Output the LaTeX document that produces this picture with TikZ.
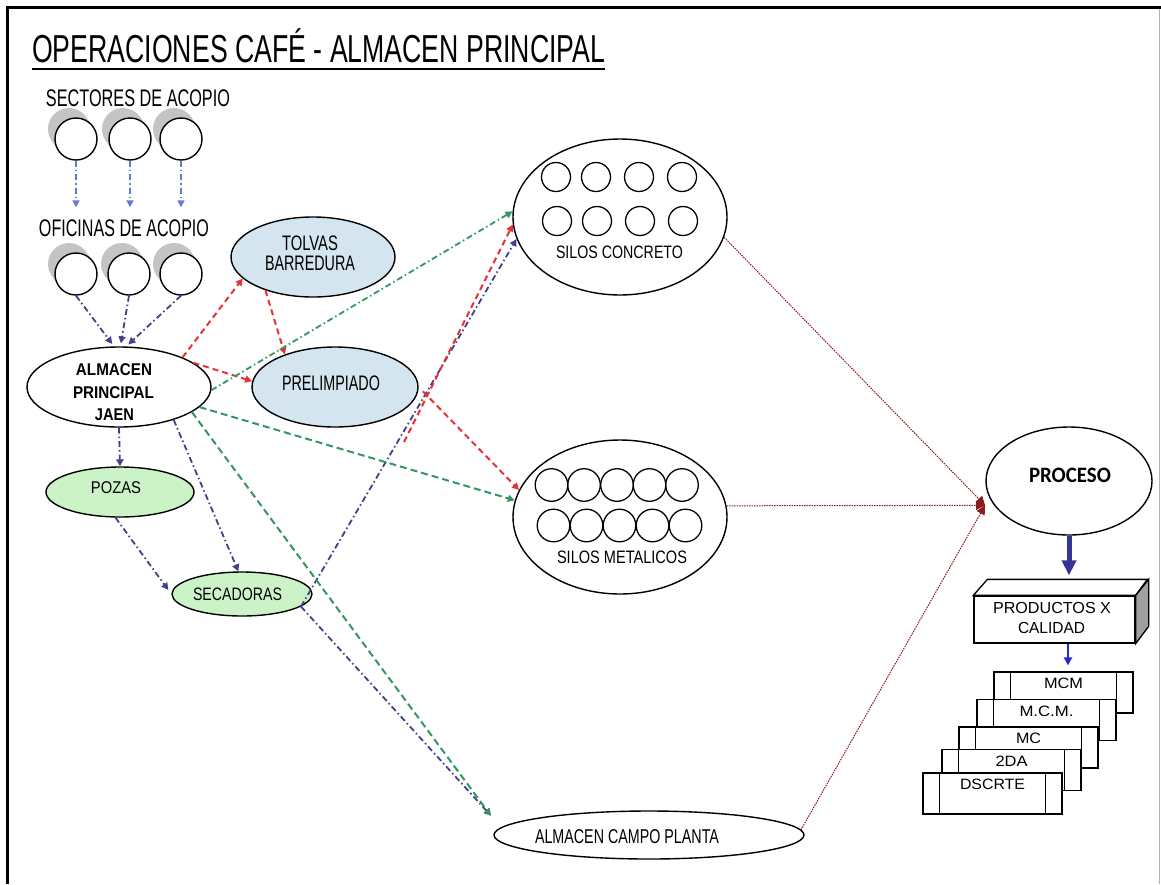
\documentclass[tikz,border=0pt]{standalone}
\usepackage{fontspec}
\usepackage{graphicx}
\setmainfont{Liberation Sans}
\newfontfamily\calfont{Carlito}
\usetikzlibrary{shapes.geometric,arrows.meta}

\definecolor{lblue}{RGB}{94,128,204}
\definecolor{navyl}{RGB}{64,64,140}
\definecolor{redl}{RGB}{228,52,56}
\definecolor{greenl}{RGB}{52,150,96}
\definecolor{darkredl}{RGB}{140,28,28}
\definecolor{fillblue}{RGB}{212,229,239}
\definecolor{fillgreen}{RGB}{204,242,200}
\definecolor{shadowc}{RGB}{196,196,196}
\definecolor{thickblue}{RGB}{52,52,150}
\definecolor{brightblue}{RGB}{40,40,210}
\definecolor{sidegray}{RGB}{160,160,160}

% text set at a given size and squeezed to a given width (pt)
\newcommand{\sztxt}[3]{\fontsize{#1}{#1}\selectfont\resizebox{#2pt}{\height}{#3}}

\begin{document}
\begin{tikzpicture}[x=1pt,y=-1pt,
  lbl/.style={inner sep=0pt, anchor=base},
  oval/.style={ellipse, draw=black, line width=1.4pt, inner sep=0pt},
  silo/.style={circle, draw=black, line width=1.4pt, fill=white, minimum size=42pt, inner sep=0pt},
  dashdot/.style={dash pattern=on 6pt off 3pt on 1.5pt off 3pt},
  tip/.style={-{Triangle[length=7pt,width=7pt]}},
  lbarrow/.style={lblue, line width=1.6pt, dashdot, tip},
  nvarrow/.style={navyl, line width=1.8pt, dashdot, tip},
  rdarrow/.style={redl, line width=2pt, dash pattern=on 6pt off 4pt, tip},
  gdarrow/.style={greenl, line width=2pt, dash pattern=on 7pt off 4pt, tip},
  gddarrow/.style={greenl, line width=1.8pt, dashdot, tip},
  drarrow/.style={darkredl, line width=1pt, dash pattern=on 1.5pt off 1pt, -{Triangle[length=9pt,width=9pt]}},
  card/.style={draw=black, line width=1.2pt, fill=white, minimum width=139pt, minimum height=41pt, inner sep=0pt}
]
\useasboundingbox (0,0) rectangle (1161,884);
\fill[white] (0,0) rectangle (1161,884);

% frame
\draw[line width=3pt] (7.5,884) -- (7.5,7.5) -- (1161,7.5);
\draw[gray!60, line width=1pt] (1159,9) -- (1159,884);

% title
\node[lbl, anchor=base west] (title) at (32,62)
  {\sztxt{39}{573}{OPERACIONES CAFÉ - ALMACEN PRINCIPAL}};
\draw[line width=2pt] ([yshift=-7pt]title.base west) -- ([yshift=-7pt]title.base east);

% collection points with extruded shadows
\foreach \x/\y/\n in {76/139/s1,130/139/s2,181/139/s3,76/274/o1,129/274/o2,181/274/o3}{
  \fill[shadowc] (\x-7,\y-10) circle[radius=21pt];
  \fill[shadowc] (\x-3.5,\y-5) circle[radius=21pt];
  \node[silo] (\n) at (\x,\y) {};
}
\node[lbl] (tsect) at (138,106) {\sztxt{24}{184}{SECTORES DE ACOPIO}};
\node[lbl] (tofic) at (124,236) {\sztxt{24}{170}{OFICINAS DE ACOPIO}};

% main ellipses
\node[oval, fill=white, minimum width=184pt, minimum height=80pt] (alm) at (119,387) {};
\node[oval, fill=fillblue, minimum width=164pt, minimum height=80pt] (tol) at (313,257) {};
\node[oval, fill=fillblue, minimum width=166pt, minimum height=80pt] (pre) at (335,387) {};
\node[oval, fill=fillgreen, minimum width=148pt, minimum height=50pt] (poz) at (120,492) {};
\node[oval, fill=fillgreen, minimum width=140pt, minimum height=44pt] (sec) at (242,594) {};
\node[oval, fill=white, minimum width=214pt, minimum height=156pt] (sc) at (620,217) {};
\node[oval, fill=white, minimum width=214pt, minimum height=154pt] (sm) at (620,517) {};
\node[oval, fill=white, minimum width=166pt, minimum height=108pt] (proc) at (1069,481) {};
\node[oval, fill=white, minimum width=310pt, minimum height=48pt] (campo) at (649,835) {};

% silo cells
\foreach \x in {556,596,639,682} \draw[line width=1.3pt] (\x,177) circle[radius=14.5pt];
\foreach \x in {557,597,640,683} \draw[line width=1.3pt] (\x,221) circle[radius=14.5pt];
\foreach \x in {551.5,584,617,649.5,682} \draw[line width=1.3pt] (\x,485) circle[radius=16.3pt];
\foreach \x in {553.5,586.5,619.5,652.5,685.5} \draw[line width=1.3pt] (\x,525.5) circle[radius=16.3pt];

% labels
\node[lbl] (talm1) at (114,375) {\bfseries\sztxt{17}{76}{ALMACEN}};
\node[lbl] (talm2) at (113.5,398) {\bfseries\sztxt{17}{81}{PRINCIPAL}};
\node[lbl] (talm3) at (114.5,420) {\bfseries\sztxt{17}{39}{JAEN}};
\node[lbl] (ttol1) at (310,250) {\sztxt{21}{56}{TOLVAS}};
\node[lbl] (ttol2) at (310,270) {\sztxt{21}{90}{BARREDURA}};
\node[lbl] (tpre) at (331,390) {\sztxt{21}{98}{PRELIMPIADO}};
\node[lbl] (tpoz) at (116,493) {\sztxt{17}{50}{POZAS}};
\node[lbl] (tsec) at (237.5,600) {\sztxt{18}{89}{SECADORAS}};
\node[lbl] (tsc) at (619.5,258) {\sztxt{18}{127}{SILOS CONCRETO}};
\node[lbl] (tsm) at (622,563) {\sztxt{18}{130}{SILOS METALICOS}};
\node[lbl] (tproc) at (1070,482) {\calfont\bfseries\sztxt{22}{82}{PROCESO}};
\node[lbl] (tcampo) at (627,843) {\sztxt{20}{184}{ALMACEN CAMPO PLANTA}};

% product box (front face, top face, side face)
\node[draw=black, line width=1.3pt, fill=white, minimum width=161pt, minimum height=47pt, inner sep=0pt] (prod) at (1054.5,619.5) {};
\draw[line width=1.3pt, fill=white] (prod.north west) -- ++(14,-16) -- ++(160,0) -- (prod.north east) -- cycle;
\draw[line width=1.3pt, fill=sidegray] (prod.north east) -- ++(13,-16) -- ++(0,47) -- (prod.south east) -- cycle;
\node[lbl] (tprod1) at (1052,613) {\sztxt{16}{118}{PRODUCTOS X}};
\node[lbl] (tprod2) at (1051.5,633) {\sztxt{16}{67}{CALIDAD}};

% stacked quality cards, back to front
\foreach \n/\x/\y/\t/\w in {c1/1063.5/692.5/MCM/39, c2/1046.5/720/M.C.M./54, c3/1028.5/747.5/MC/25, c4/1011.5/770/2DA/32, c5/992.5/793.5/DSCRTE/65}{
  \node[card] (\n) at (\x,\y) {};
  \draw[line width=1.2pt] ([xshift=17pt]\n.north west) -- ([xshift=17pt]\n.south west);
  \draw[line width=1.2pt] ([xshift=-17pt]\n.north east) -- ([xshift=-17pt]\n.south east);
  \node[lbl] (t\n) at ([yshift=-17.5pt]\n.north) {\sztxt{15}{\w}{\t}};
}

% flows from collection points
\draw[lbarrow, shorten >=45pt] (s1.south) -- (s1.south |- o1.north);
\draw[lbarrow, shorten >=45pt] (s2.south) -- (s2.south |- o2.north);
\draw[lbarrow, shorten >=45pt] (s3.south) -- (s3.south |- o3.north);
\draw[nvarrow, shorten >=3pt] (o1.south) -- (alm.97);
\draw[nvarrow, shorten >=3pt] (o2.south) -- (alm.88);
\draw[nvarrow, shorten >=3pt] (o3.south) -- (alm.80);

% drying
\draw[nvarrow] (alm.south) -- (poz.north);
\draw[nvarrow] (alm.-31) -- (sec.99);
\draw[nvarrow, shorten >=5pt] (poz.-100) -- (sec.west);
\draw[nvarrow] (sec.-12) -- (sc.192);
\draw[nvarrow] (sec.-12) -- ([shift={(-6,-14)}]campo.178);

% cleaning
\draw[rdarrow] (alm.25) -- (tol.197);
\draw[rdarrow] (tol.215) -- (pre.147);
\draw[rdarrow] (alm.18) -- (pre.176);
\draw[rdarrow, shorten <=6pt] (pre.0) -- (sm.165);
\coordinate (rfoot) at (404,442);
\draw[rdarrow] (rfoot) -- (sc.184);

% direct transfers
\draw[gddarrow] (alm.-2) -- (sc.177);
\draw[gdarrow] (alm.-14) -- (sm.171);
\draw[gdarrow] (alm.-19) -- ([shift={(-6,-14)}]campo.178);

% to processing
\draw[drarrow] (sc.-11) -- ([xshift=-9pt]proc.198);
\draw[drarrow] (sm.6) -- ([xshift=-9pt]proc.198);
\draw[drarrow] (campo.2) -- ([xshift=-9pt]proc.198);

\coordinate (ptop) at ([yshift=20pt]prod.north);
\draw[thickblue, line width=5pt, -{Triangle[length=15pt,width=14pt]}] (proc.south) -- (proc.south |- ptop);
\coordinate (pbot) at ([xshift=13.5pt]prod.south);
\draw[brightblue, line width=2.5pt, shorten >=6pt, -{Triangle[length=8pt,width=8pt]}] (pbot) -- (pbot |- c1.north);
\end{tikzpicture}
\end{document}
